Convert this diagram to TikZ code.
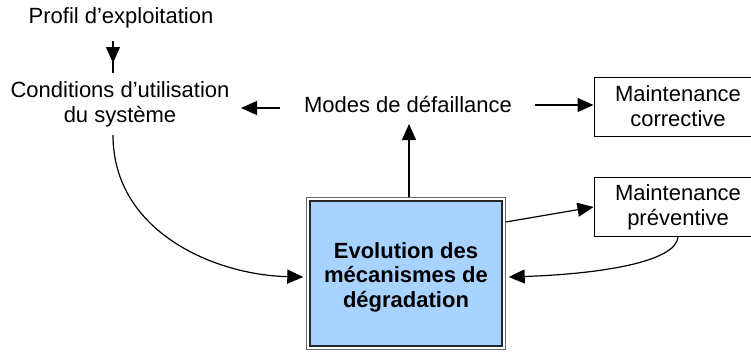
\documentclass[tikz,border=0pt]{standalone}
\usepackage{fontspec}
\setmainfont{Liberation Sans}
\usetikzlibrary{arrows.meta}
\definecolor{evoblue}{RGB}{168,210,255}
\begin{document}
\begin{tikzpicture}[x=1pt,y=-1pt,
  lbl/.style={inner sep=0pt, align=center, font=\fontsize{22}{25}\selectfont},
  mbox/.style={lbl, draw, line width=1pt, minimum width=168pt, minimum height=59pt},
  evostyle/.style={inner sep=0pt, draw=black!85, line width=1.4pt, fill=evoblue, minimum width=192pt, minimum height=145pt},
  evotext/.style={lbl, font=\fontsize{22}{24.5}\selectfont\bfseries},
  conn/.style={line width=1.2pt},
  tip/.style={-{Triangle[length=16pt,width=14pt]}},
  arr/.style={conn, tip}]
\useasboundingbox (0,0) rectangle (751,351);
% nodes
\node[lbl] (prof) at (121,18) {Profil d’exploitation};
\node[lbl] (cond) at (120,104.5) {Conditions d’utilisation\\du système};
\node[lbl] (modes) at (408,105) {Modes de défaillance};
\node[mbox] (corr) at (678,106.5) {Maintenance\\corrective};
\node[mbox] (prev) at (678,207) {Maintenance\\préventive};
\node[evostyle] (evo) at (406,273.5) {};
\node[evotext] (evolbl) at (406,277) {Evolution des\\mécanismes de\\dégradation};
\draw[black!60, line width=0.8pt] ([shift={(-3,-3)}]evo.north west) rectangle ([shift={(3,3)}]evo.south east);
% connector ends
\coordinate (p1) at ([shift={(-8,23)}]prof.center);
\coordinate (p2) at ([shift={(-8,45)}]prof.center);
\coordinate (p3) at ([shift={(-7,-32)}]cond.center);
% connectors
\draw[conn] (p1) -- (p3);
\draw[arr] (p1) -- (p2);
\draw[arr] ([shift={(-128,3)}]modes.center) -- ([shift={(121,3.5)}]cond.center);
\draw[arr] ([shift={(127,0)}]modes.center) -- (corr.west |- modes.center);
\draw[arr] ([shift={(3,-3)}]evo.north) -- ([shift={(1,19)}]modes.center);
\draw[arr] ([shift={(-7,30.5)}]cond.center) .. controls (113,232) and (215,275) .. ([shift={(-6,3.5)}]evo.west);
\draw[arr] ([shift={(3,-51.5)}]evo.east) -- (prev.west);
\draw[arr] (prev.south) .. controls (676,262) and (600,274) .. ([shift={(6,3.5)}]evo.east);
\end{tikzpicture}
\end{document}
